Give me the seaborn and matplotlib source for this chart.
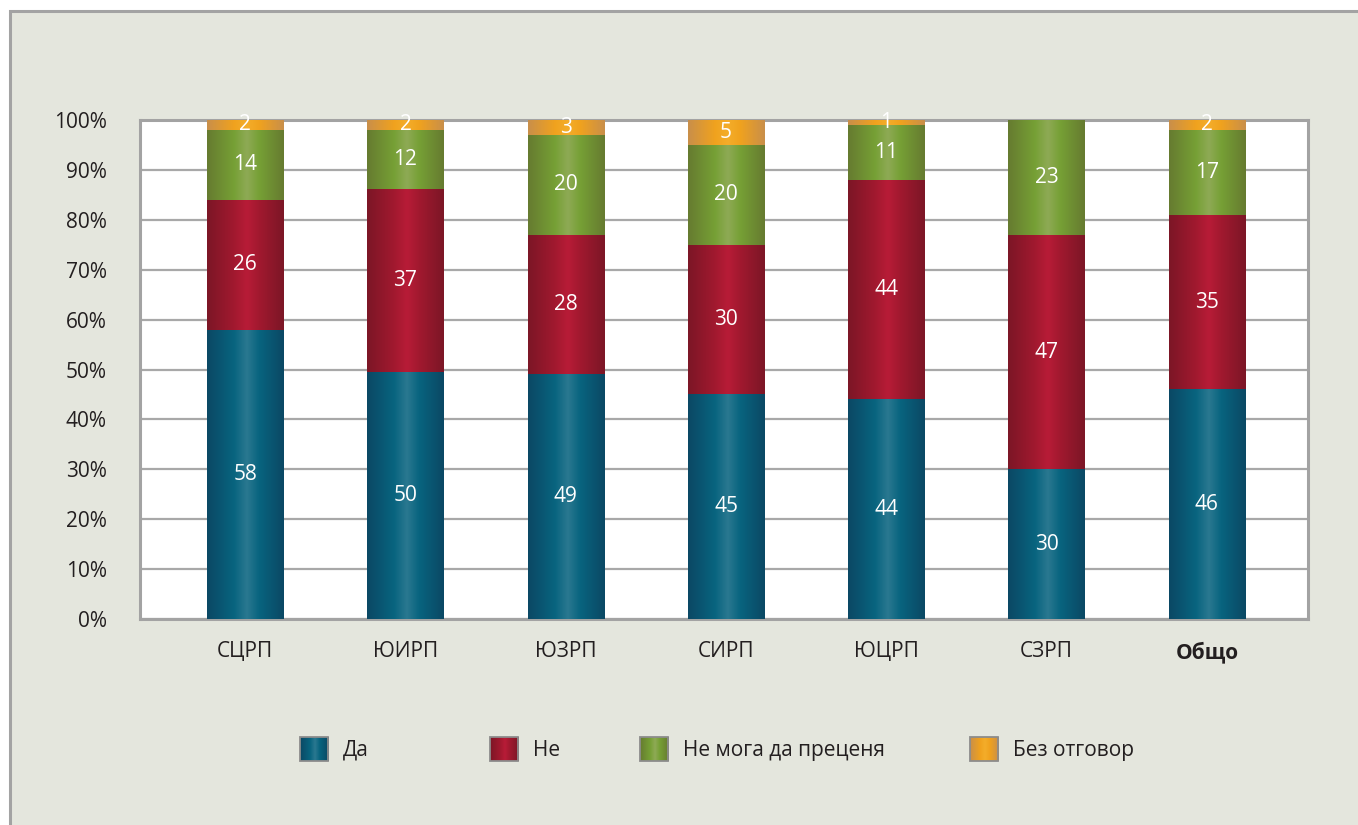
import numpy as np
import pandas as pd
import matplotlib
matplotlib.use('Agg')
import matplotlib.pyplot as plt
import seaborn as sns
from matplotlib.patches import Rectangle, Patch
from matplotlib.colors import to_rgb
from matplotlib.legend_handler import HandlerBase
from matplotlib.image import BboxImage
from matplotlib.transforms import Bbox, TransformedBbox

# data
regions = ['СЦРП', 'ЮИРП', 'ЮЗРП', 'СИРП', 'ЮЦРП', 'СЗРП', 'Общо']
series = ['Да', 'Не', 'Не мога да преценя', 'Без отговор']
da = [58, 50, 49, 45, 44, 30, 46]
ne = [26, 37, 28, 30, 44, 47, 35]
ne_moga = [14, 12, 20, 20, 11, 23, 17]
bez_otg = [2, 2, 3, 5, 1, 0, 2]

# edge, base, highlight colours per series
colors = {
    'Да': ('#0b4864', '#08647f', '#2a7890'),
    'Не': ('#7c1626', '#a1192f', '#b81c37'),
    'Не мога да преценя': ('#667b30', '#76a035', '#8eaa55'),
    'Без отговор': ('#c98f4a', '#f0a21e', '#f4ad2a'),
}

sns.set_theme(style='white')
plt.rcParams['font.family'] = ['Open Sans', 'DejaVu Sans']

df = pd.DataFrame({'region': regions, 'Да': da, 'Не': ne,
                   'Не мога да преценя': ne_moga, 'Без отговор': bez_otg})
vals = df[series].astype(float)
pct = vals.div(vals.sum(axis=1), axis=0) * 100  # normalised to 100%
cum = pct.cumsum(axis=1)


def gradient(c):
    e, b, h = [np.array(to_rgb(x)) for x in c]
    t = np.linspace(0, 1, 128)
    pos = [0, 0.35, 0.52, 0.68, 1]
    cols = np.array([e, b, h, b, e])
    img = np.stack([np.interp(t, pos, cols[:, k]) for k in range(3)], axis=-1)
    return img[np.newaxis, :, :]


class GradHandler(HandlerBase):
    # legend square with the same shading as the bars
    def __init__(self, c):
        super().__init__()
        self.c = c

    def create_artists(self, legend, orig_handle, xdescent, ydescent,
                       width, height, fontsize, trans):
        bb = TransformedBbox(Bbox.from_bounds(-xdescent, -ydescent, width, height), trans)
        im = BboxImage(bb, interpolation='bicubic')
        im.set_data(gradient(self.c))
        r = Rectangle((-xdescent, -ydescent), width, height, facecolor='none',
                      edgecolor='#8c8c8c', linewidth=1.3, transform=trans)
        return [im, r]


fig = plt.figure(figsize=(13.58, 8.25), dpi=100, facecolor='white')
# outer panel
fig.patches.append(Rectangle((10 / 1358, -0.1), 1.2, 1 - 11 / 825 + 0.1,
                             transform=fig.transFigure, facecolor='#e4e6dd',
                             edgecolor='#a3a3a3', linewidth=2.2, zorder=-5))

ax = fig.add_axes([140 / 1358, 1 - 619 / 825, 1168 / 1358, 499 / 825])
ax.set_facecolor('white')

# draw from tallest cumulative layer to shortest, so lower layers sit on top
for li, s in enumerate(reversed(series)):
    d = pd.DataFrame({'region': regions, 'top': cum[s].values})
    before = len(ax.patches)
    sns.barplot(data=d, x='region', y='top', order=regions, color=colors[s][1],
                width=0.475, ax=ax, errorbar=None, linewidth=0)
    img = gradient(colors[s])
    for p in ax.patches[before:]:
        x0, y0 = p.get_x(), p.get_y()
        w, h = p.get_width(), p.get_height()
        if h <= 0:
            continue
        p.set_facecolor('none')
        im = ax.imshow(img, extent=[x0, x0 + w, y0, y0 + h], aspect='auto',
                       interpolation='bicubic', zorder=3 + li * 0.1)
        im.set_clip_path(p)
        im.set_clip_on(True)

# value labels
for i, r in enumerate(regions):
    bottom = 0
    for s in series:
        v = df.loc[i, s]
        h = pct.loc[i, s]
        if v > 0:
            ax.text(i, bottom + h / 2, f'{v}', ha='center', va='center',
                    color='white', fontsize=15, zorder=6)
        bottom += h

ax.set_xlim(-105 / 160, 6 + 101 / 160)
ax.set_ylim(0, 100)
ax.set_yticks(range(0, 101, 10))
ax.set_yticklabels([f'{v}%' for v in range(0, 101, 10)])
ax.set_xlabel('')
ax.set_ylabel('')
ax.yaxis.grid(True, color='#a8a8a8', linewidth=1.6)
ax.set_axisbelow(True)
for sp in ax.spines.values():
    sp.set_color('#a3a3a3')
    sp.set_linewidth(2.2)
    sp.set_zorder(2.5)
ax.tick_params(axis='both', length=0, labelsize=15, colors='#231f20')
ax.tick_params(axis='y', pad=24)
ax.tick_params(axis='x', pad=16)
for lbl in ax.get_xticklabels():
    if lbl.get_text() == 'Общо':
        lbl.set_fontweight('bold')

# legend entries
leg_x = [300, 490, 640, 970]
for s, x in zip(series, leg_x):
    h = Patch(facecolor=colors[s][1])
    lg = fig.legend(handles=[h], labels=[s], loc='center left',
                    bbox_to_anchor=(x / 1358, 1 - 749 / 825), frameon=False,
                    fontsize=15, handlelength=1.35, handleheight=1.35,
                    handletextpad=0.7, borderpad=0, borderaxespad=0,
                    handler_map={h: GradHandler(colors[s])})
    for t in lg.get_texts():
        t.set_color('#231f20')

fig.savefig('out.png', dpi=100, facecolor='white')
